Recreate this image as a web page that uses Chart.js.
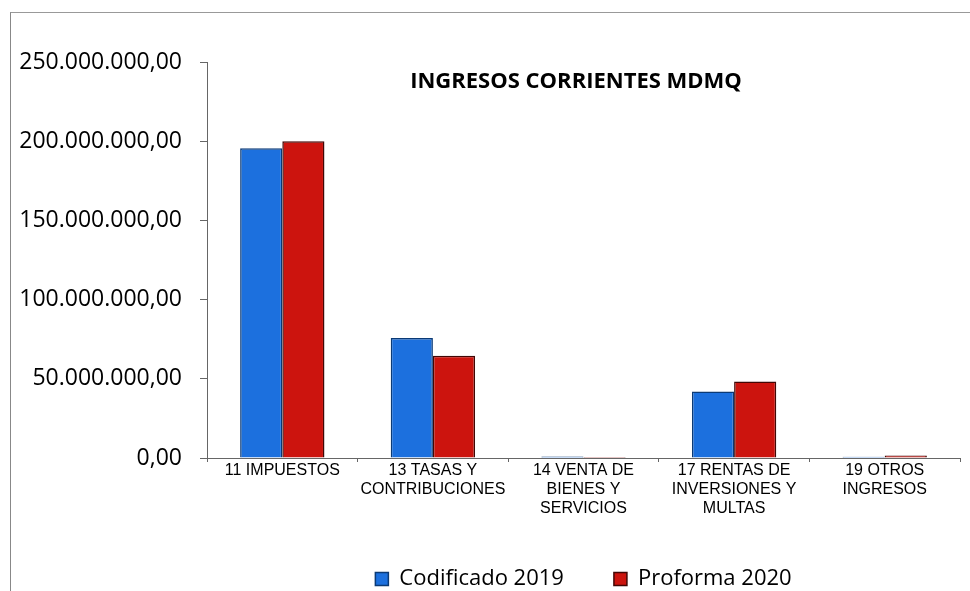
<!DOCTYPE html>
<html>
<head>
<meta charset="utf-8">
<script src="https://cdn.jsdelivr.net/npm/chart.js@4.4.1/dist/chart.umd.min.js"></script>
<style>
  html, body { margin: 0; padding: 0; background: #fff; }
  #wrap { position: relative; width: 970px; height: 591px; overflow: hidden; }
  #frame { position: absolute; left: 10px; top: 12px; width: 980px; height: 600px; border-left: 1px solid #888; border-top: 1px solid #999; }
  canvas { position: absolute; left: 0; top: 0; }
</style>
</head>
<body>
<div id="wrap">
  <div id="frame"></div>
  <canvas id="ingresosChart" width="970" height="591"></canvas>
</div>
<script>
const categorias = [
    ['11 IMPUESTOS'],
    ['13 TASAS Y', 'CONTRIBUCIONES'],
    ['14 VENTA DE', 'BIENES Y', 'SERVICIOS'],
    ['17 RENTAS DE', 'INVERSIONES Y', 'MULTAS'],
    ['19 OTROS', 'INGRESOS']
];
const codificado2019 = [195600000, 75800000, 1000000, 42000000, 800000];
const proforma2020 = [200000000, 64600000, 600000, 48300000, 1500000];
const titulo = 'INGRESOS CORRIENTES MDMQ';

function formatoNumero(v) {
    const partes = Number(v).toFixed(2).split('.');
    return partes[0].replace(/\B(?=(\d{3})+(?!\d))/g, '.') + ',' + partes[1];
}

// titulo dibujado dentro del area del grafico
const tituloPlugin = {
    id: 'tituloInterno',
    afterDraw(chart) {
        const ctx = chart.ctx;
        ctx.save();
        ctx.font = 'bold 22px "Open Sans", sans-serif';
        ctx.fillStyle = '#000';
        ctx.textAlign = 'center';
        ctx.textBaseline = 'middle';
        ctx.fillText(titulo, 576, 82);
        ctx.restore();
    }
};

const ctx = document.getElementById('ingresosChart').getContext('2d');
new Chart(ctx, {
    type: 'bar',
    data: {
        labels: categorias,
        datasets: [
            { label: 'Codificado 2019', data: codificado2019, backgroundColor: '#1c70de', borderColor: '#0b3a75', borderWidth: 1.5 },
            { label: 'Proforma 2020', data: proforma2020, backgroundColor: '#cc140e', borderColor: '#420705', borderWidth: 1.5 }
        ]
    },
    plugins: [tituloPlugin],
    options: {
        responsive: false,
        animation: false,
        layout: { padding: { top: 62, right: 10, left: 0, bottom: -9 } },
        datasets: { bar: { barPercentage: 1, categoryPercentage: 0.56 } },
        scales: {
            y: {
                min: 0, max: 250000000,
                ticks: { stepSize: 50000000, color: '#000', padding: 18, font: { family: '"Open Sans", sans-serif', size: 23 }, callback: v => formatoNumero(v) },
                grid: { drawOnChartArea: false, tickLength: 7, color: '#666' },
                border: { color: '#666' },
                afterFit: s => { s.width = 207; }
            },
            x: {
                ticks: { color: '#000', font: { family: '"Liberation Sans Narrow", "Liberation Sans", sans-serif', size: 16, lineHeight: 1.2 }, maxRotation: 0, padding: -1 },
                grid: { drawOnChartArea: false, offset: true, tickLength: 4, color: '#666' },
                border: { color: '#666' },
                afterFit: s => { s.height = 60; }
            }
        },
        plugins: {
            legend: {
                position: 'bottom',
                fullSize: false,
                labels: { color: '#000', boxWidth: 13, boxHeight: 13, padding: 50, font: { family: '"Open Sans", sans-serif', size: 22 } }
            },
            tooltip: { enabled: false }
        }
    }
});
</script>
</body>
</html>
